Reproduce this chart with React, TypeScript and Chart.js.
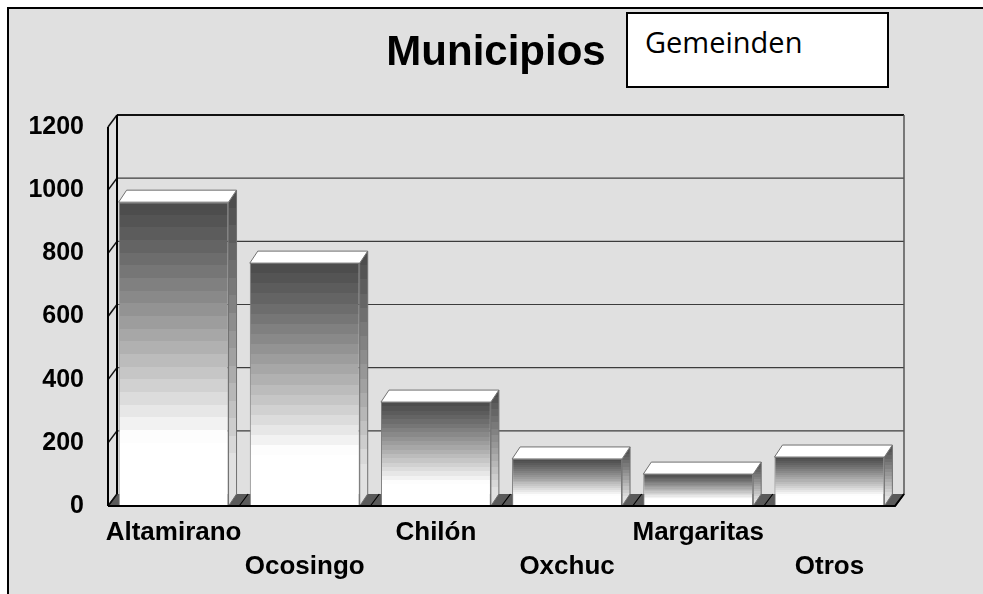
import React, { useEffect, useRef } from "react";
import { Chart, registerables } from "chart.js";

Chart.register(...registerables);

const categories = ["Altamirano", "Ocosingo", "Chilón", "Oxchuc", "Margaritas", "Otros"];
const values = [962, 769, 329, 149, 101, 155];
const yTicks = [0, 200, 400, 600, 800, 1000, 1200];
const titleText = "Municipios";
const noteText = "Gemeinden";

const FONT = "'Liberation Sans', Arial, Helvetica, sans-serif";
const WDX = 9;
const WDY = 12;
const BDX = 8;
const BDY = 12;

function grayHex(g: number) {
  const v = Math.max(0, Math.min(255, Math.round(g)));
  const h = v.toString(16).padStart(2, "0");
  return "#" + h + h + h;
}

function bandedGradient(ctx: CanvasRenderingContext2D, top: number, bottom: number, from: number, to: number, whiteAt: number, bands: number) {
  const g = ctx.createLinearGradient(0, top, 0, bottom);
  for (let k = 0; k < bands; k++) {
    const t0 = k / bands;
    const t1 = (k + 1) / bands;
    const f = (k + 0.5) / bands;
    const p = Math.min(1, f / whiteAt);
    const c = grayHex(from + (to - from) * Math.pow(p, 1.15));
    g.addColorStop(t0, c);
    g.addColorStop(t1, c);
  }
  return g;
}

const threeD = {
  id: "threeD",
  beforeDatasetsDraw(chart: any) {
    const { ctx, chartArea, scales } = chart;
    const x = scales.x;
    const y = scales.y;
    const left = chartArea.left;
    const right = chartArea.right;
    const y0 = y.getPixelForValue(0);
    const yTop = y.getPixelForValue(yTicks[yTicks.length - 1]);
    ctx.save();
    // floor
    ctx.fillStyle = "#5a5a5a";
    ctx.beginPath();
    ctx.moveTo(left, y0);
    ctx.lineTo(left + WDX, y0 - WDY);
    ctx.lineTo(right + WDX, y0 - WDY);
    ctx.lineTo(right, y0);
    ctx.closePath();
    ctx.fill();
    // floor hatch at category boundaries
    const step = x.getPixelForValue(1) - x.getPixelForValue(0);
    ctx.strokeStyle = "#000";
    ctx.lineWidth = 1.2;
    for (let i = 0; i <= categories.length; i++) {
      const xb = x.getPixelForValue(0) - step / 2 + i * step;
      ctx.beginPath();
      ctx.moveTo(xb, y0);
      ctx.lineTo(xb + WDX, y0 - WDY);
      ctx.stroke();
    }
    // back wall grid lines
    yTicks.forEach((v) => {
      const yy = y.getPixelForValue(v);
      const isTop = v === yTicks[yTicks.length - 1];
      if (v !== 0) {
        ctx.strokeStyle = isTop ? "#111" : "#3c3c3c";
        ctx.lineWidth = isTop ? 2 : 1.2;
        ctx.beginPath();
        ctx.moveTo(left + WDX, yy - WDY);
        ctx.lineTo(right + WDX, yy - WDY);
        ctx.stroke();
      }
      ctx.strokeStyle = "#111";
      ctx.lineWidth = 1.5;
      ctx.beginPath();
      ctx.moveTo(left, yy);
      ctx.lineTo(left + WDX, yy - WDY);
      ctx.stroke();
    });
    // left wall verticals
    ctx.strokeStyle = "#000";
    ctx.lineWidth = 2;
    ctx.beginPath();
    ctx.moveTo(left, y0);
    ctx.lineTo(left, yTop);
    ctx.moveTo(left + WDX, y0 - WDY);
    ctx.lineTo(left + WDX, yTop - WDY);
    ctx.stroke();
    // right edge of back wall
    ctx.strokeStyle = "#555";
    ctx.lineWidth = 1.5;
    ctx.beginPath();
    ctx.moveTo(right + WDX, yTop - WDY);
    ctx.lineTo(right + WDX, y0 - WDY);
    ctx.lineTo(right, y0);
    ctx.stroke();
    ctx.restore();
  },
  afterDatasetsDraw(chart: any) {
    const { ctx, chartArea, scales } = chart;
    const y = scales.y;
    const y0 = y.getPixelForValue(0);
    const meta = chart.getDatasetMeta(0);
    ctx.save();
    meta.data.forEach((bar: any) => {
      const { x: cx, y: top, base, width } = bar.getProps(["x", "y", "base", "width"], true);
      const x0 = cx - width / 2;
      const x1 = cx + width / 2;
      // side face
      ctx.fillStyle = bandedGradient(ctx, top - BDY, base, 74, 225, 0.85, 18);
      ctx.beginPath();
      ctx.moveTo(x1, top);
      ctx.lineTo(x1 + BDX, top - BDY);
      ctx.lineTo(x1 + BDX, base - BDY);
      ctx.lineTo(x1, base);
      ctx.closePath();
      ctx.fill();
      ctx.strokeStyle = "#707070";
      ctx.lineWidth = 1;
      ctx.stroke();
      // top face
      ctx.fillStyle = "#ffffff";
      ctx.beginPath();
      ctx.moveTo(x0, top);
      ctx.lineTo(x0 + BDX, top - BDY);
      ctx.lineTo(x1 + BDX, top - BDY);
      ctx.lineTo(x1, top);
      ctx.closePath();
      ctx.fill();
      ctx.strokeStyle = "#707070";
      ctx.stroke();
    });
    // front axis line
    ctx.strokeStyle = "#000";
    ctx.lineWidth = 2;
    ctx.beginPath();
    ctx.moveTo(chartArea.left, y0);
    ctx.lineTo(chartArea.right, y0);
    ctx.lineTo(chartArea.right + WDX, y0 - WDY);
    ctx.stroke();
    ctx.restore();
  },
};

export default function App() {
  const canvasRef = useRef<HTMLCanvasElement | null>(null);

  useEffect(() => {
    const canvas = canvasRef.current;
    if (!canvas) return;
    const chart = new Chart(canvas, {
      type: "bar",
      data: {
        labels: categories,
        datasets: [
          {
            data: values,
            backgroundColor: (c: any) => {
              const ch = c.chart;
              const ys = ch.scales && ch.scales.y;
              if (!ys || c.dataIndex === undefined) return "#888";
              const top = ys.getPixelForValue(values[c.dataIndex]);
              const base = ys.getPixelForValue(0);
              if (!isFinite(top) || !isFinite(base) || base - top < 1) return "#ffffff";
              return bandedGradient(ch.ctx, top, base, 74, 255, 0.78, 24);
            },
            borderColor: "#7a7a7a",
            borderWidth: 1,
            categoryPercentage: 0.838,
            barPercentage: 1,
          },
        ],
      },
      options: {
        responsive: false,
        animation: false,
        layout: { padding: { left: 0, right: 0, top: 0, bottom: 0 } },
        plugins: {
          legend: { display: false },
          tooltip: { enabled: false },
          title: {
            display: true,
            text: titleText,
            color: "#000",
            font: { family: FONT, size: 42, weight: "bold", lineHeight: 1.2 },
            padding: { top: 19, bottom: 48.6 },
          },
        },
        scales: {
          x: {
            grid: { display: false, drawTicks: false },
            border: { display: false },
            ticks: {
              color: "#000",
              autoSkip: false,
              maxRotation: 0,
              minRotation: 0,
              padding: 10,
              font: { family: FONT, size: 26, weight: "bold", lineHeight: 34 / 26 },
              callback: (_v: any, i: number) => (i % 2 === 0 ? categories[i] : ["", categories[i]]),
            },
            afterFit: (s: any) => {
              s.height = 88;
            },
          },
          y: {
            min: 0,
            max: 1200,
            grid: { display: false, drawTicks: false },
            border: { display: false },
            afterBuildTicks: (s: any) => {
              s.ticks = yTicks.map((v) => ({ value: v }));
            },
            ticks: {
              color: "#000",
              padding: 24,
              font: { family: FONT, size: 25, weight: "bold" },
              callback: (v: any) => String(v),
            },
            afterFit: (s: any) => {
              s.width = 99;
            },
          },
          spacer: {
            type: "linear",
            position: "right",
            display: true,
            grid: { display: false, drawTicks: false },
            border: { display: false },
            ticks: { display: false },
            afterFit: (s: any) => {
              s.width = 88;
            },
          },
        },
      },
      plugins: [threeD],
    } as any);
    return () => chart.destroy();
  }, []);

  return (
    <div
      style={{
        position: "fixed",
        left: 7,
        top: 7,
        right: 0,
        bottom: 0,
        borderLeft: "2px solid #000",
        borderTop: "2px solid #000",
        background: "#e0e0e0",
        overflow: "hidden",
      }}
    >
      <canvas ref={canvasRef} width={974} height={585} style={{ display: "block" }} />
      <div
        style={{
          position: "absolute",
          left: 617,
          top: 3,
          width: 263,
          height: 76,
          boxSizing: "border-box",
          border: "2px solid #000",
          background: "#fff",
        }}
      >
        <span
          style={{
            position: "absolute",
            left: 17,
            top: 8,
            fontFamily: "'Open Sans', 'Noto Sans', sans-serif",
            fontSize: 29,
            lineHeight: "40px",
            color: "#000",
            whiteSpace: "nowrap",
          }}
        >
          {noteText}
        </span>
      </div>
    </div>
  );
}
